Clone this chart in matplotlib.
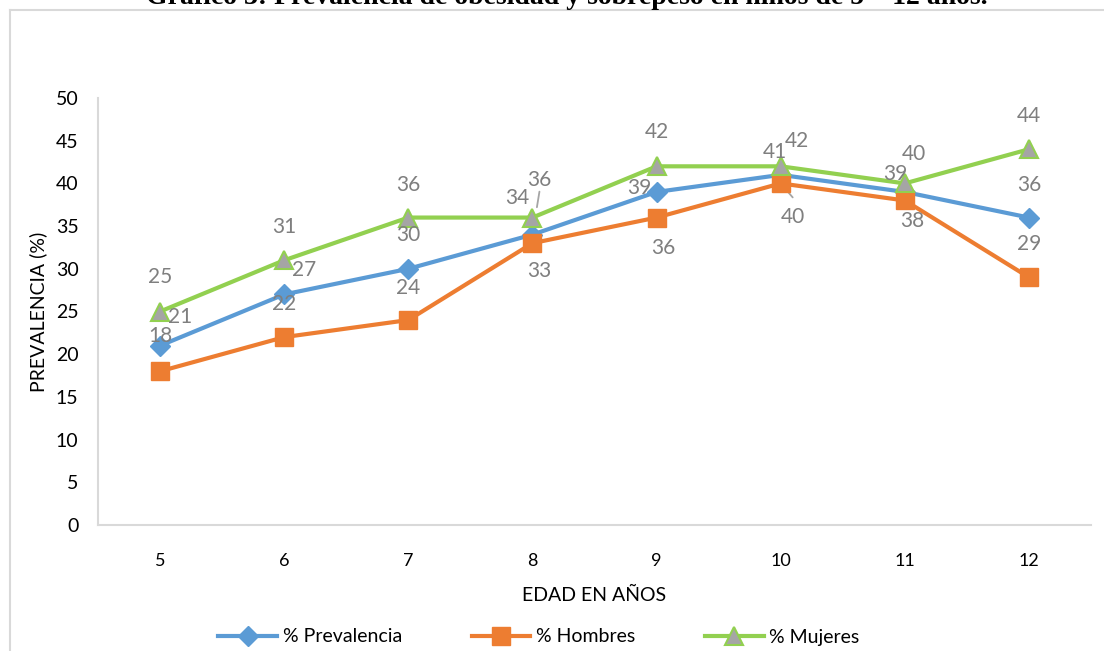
import matplotlib.pyplot as plt
from matplotlib.lines import Line2D

# --- Datos ---
edades = [5, 6, 7, 8, 9, 10, 11, 12]
prevalencia = [21, 27, 30, 34, 39, 41, 39, 36]
hombres = [18, 22, 24, 33, 36, 40, 38, 29]
mujeres = [25, 31, 36, 36, 42, 42, 40, 44]

# desplazamientos de las etiquetas (px, x derecha / y arriba)
off_prev = [(20, 29), (20, 24), (0, 34), (-15, 37), (-17, 4), (-6, 23), (-10, 18), (0, 33)]
off_homb = [(0, 35), (0, 33), (0, 32), (7, -28), (7, -30), (12, -34), (7, -21), (0, 33)]
off_muj = [(0, 34), (0, 33), (0, 33), (7, 38), (0, 34), (16, 25), (9, 29), (0, 33)]

AZUL = '#5b9bd5'
NARANJA = '#ed7d31'
VERDE = '#92d050'
GRIS = '#a5a5a5'
TXT = '#7f7f7f'
BORDE = '#d9d9d9'

plt.rcParams['font.family'] = ['Lato', 'DejaVu Sans']

W, H = 1104, 651
fig = plt.figure(figsize=(W / 100, H / 100), dpi=100)
ax = fig.add_axes([98 / W, 1 - 525 / H, (1091 - 98) / W, (525 - 98) / H])

# marco del gráfico
fig.add_artist(Line2D([10 / W, 1], [1 - 9.5 / H] * 2, color=BORDE, lw=1.5))
fig.add_artist(Line2D([10 / W] * 2, [0, 1 - 9.5 / H], color=BORDE, lw=1.5))

# título (queda recortado arriba)
fig.text(567 / W, 1 - 4 / H, 'Gráfico 3: Prevalencia de obesidad y sobrepeso en niños de 5 – 12 años.',
         family='Liberation Serif', weight='bold', fontsize=20, ha='center', va='baseline')

l1, = ax.plot(edades, prevalencia, color=AZUL, lw=3, marker='D', ms=10, mfc=AZUL, mec=AZUL,
              label='% Prevalencia', zorder=3)
l2, = ax.plot(edades, hombres, color=NARANJA, lw=3, marker='s', ms=12.5, mfc=NARANJA, mec=NARANJA,
              label='% Hombres', zorder=4)
l3, = ax.plot(edades, mujeres, color=VERDE, lw=3, marker='^', ms=12.5, mfc=GRIS, mec=VERDE, mew=1.5,
              label='% Mujeres', zorder=5)

# etiquetas de datos
for serie, offs in [(prevalencia, off_prev), (hombres, off_homb), (mujeres, off_muj)]:
    for x, v, (dx, dy) in zip(edades, serie, offs):
        ax.annotate(str(v), (x, v), xytext=(dx * 0.72, dy * 0.72), textcoords='offset points',
                    ha='center', va='center', fontsize=15, color=TXT, zorder=6)

# líneas guía
ax.annotate('', (edades[3], prevalencia[3]), xytext=(7 * 0.72, 43 * 0.72), textcoords='offset points',
            arrowprops=dict(arrowstyle='-', color=GRIS, lw=1.3, shrinkA=0, shrinkB=20))
ax.annotate('', (edades[5], hombres[5]), xytext=(12 * 0.72, -14 * 0.72), textcoords='offset points',
            arrowprops=dict(arrowstyle='-', color=GRIS, lw=1.3, shrinkA=0, shrinkB=1))

ax.set_xlim(4.5, 12.5)
ax.set_ylim(0, 50)
ax.set_yticks(range(0, 51, 5))
ax.set_xticks(edades)
ax.set_xticklabels([str(e) for e in edades])
ax.tick_params(length=0, labelsize=13, colors='black')
ax.tick_params(axis='y', labelsize=14, pad=14)
ax.tick_params(axis='x', pad=20)

for s in ['top', 'right']:
    ax.spines[s].set_visible(False)
for s in ['left', 'bottom']:
    ax.spines[s].set_color(BORDE)
    ax.spines[s].set_linewidth(1.5)

ax.set_xlabel('EDAD EN AÑOS', fontsize=14, labelpad=13)
ax.set_ylabel('PREVALENCIA (%)', fontsize=14, labelpad=6)

fig.legend(handles=[l1, l2, l3], loc='center', bbox_to_anchor=(539 / W, 1 - 637 / H), ncol=3,
           frameon=False, fontsize=14, handlelength=3.0, handletextpad=0.3, columnspacing=3.6)

fig.savefig('out.png', dpi=100)
